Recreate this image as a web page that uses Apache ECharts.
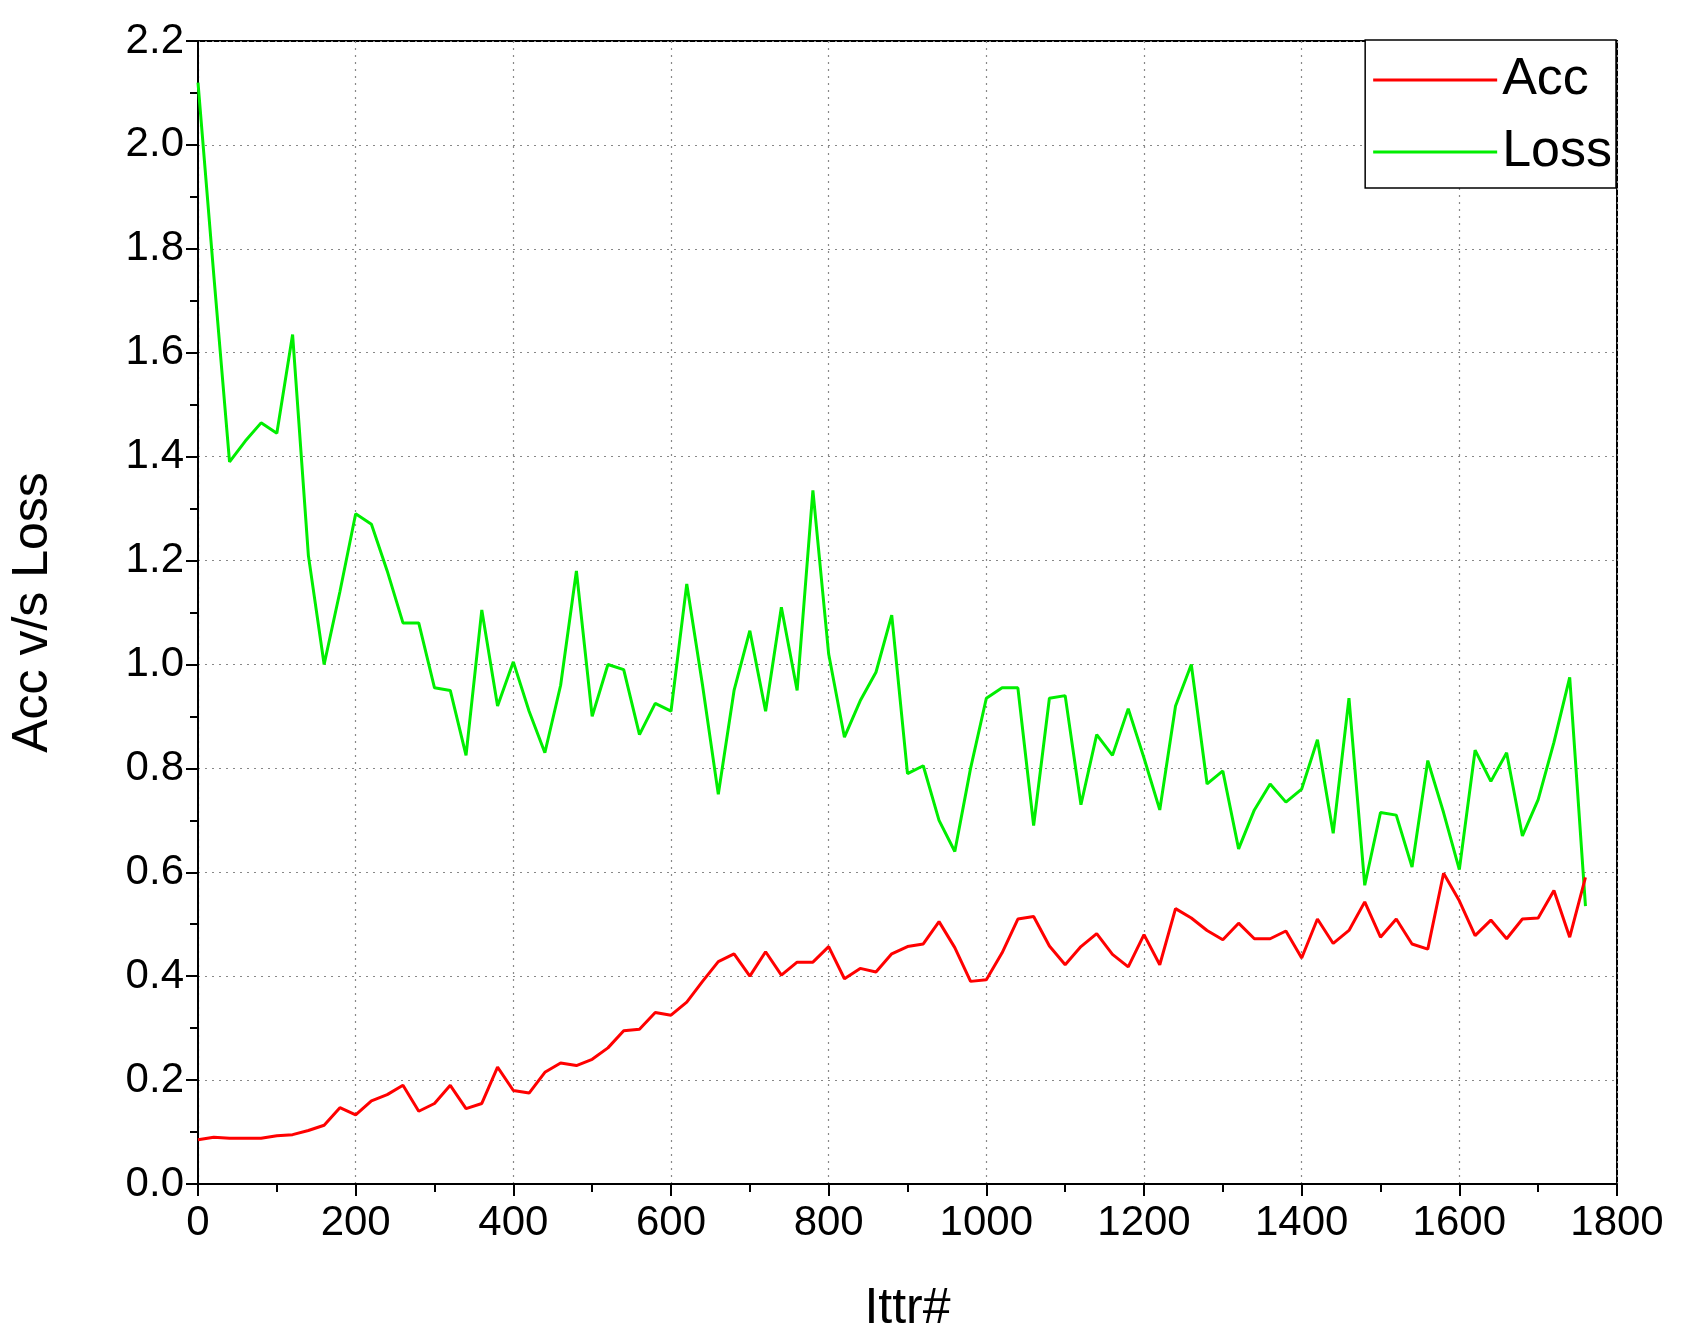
<!DOCTYPE html>
<html><head><meta charset="utf-8">
<script src="https://cdn.jsdelivr.net/npm/echarts@6/dist/echarts.min.js"></script>
<style>html,body{margin:0;padding:0;background:#fff}#c{width:1682px;height:1342px}</style>
</head><body><div id="c"></div>
<script>
const iters = [];
for (let i = 0; i <= 1760; i += 20) iters.push(i);
const accValues = [0.085,0.09,0.088,0.088,0.088,0.093,0.095,0.103,0.113,0.147,0.133,0.16,0.172,0.19,0.14,0.155,0.19,0.145,0.155,0.225,0.18,0.175,0.215,0.233,0.228,0.24,0.262,0.295,0.298,0.33,0.325,0.35,0.39,0.428,0.443,0.40,0.447,0.402,0.427,0.427,0.457,0.395,0.415,0.408,0.443,0.457,0.462,0.505,0.455,0.39,0.393,0.445,0.51,0.515,0.458,0.422,0.457,0.482,0.442,0.418,0.48,0.422,0.53,0.512,0.488,0.47,0.502,0.472,0.472,0.487,0.435,0.51,0.463,0.488,0.543,0.475,0.51,0.462,0.452,0.598,0.545,0.478,0.508,0.472,0.51,0.512,0.565,0.475,0.59];
const lossValues = [2.12,1.75,1.39,1.43,1.465,1.445,1.635,1.21,1.0,1.14,1.29,1.27,1.18,1.08,1.08,0.955,0.95,0.825,1.105,0.92,1.005,0.91,0.83,0.96,1.18,0.90,1.0,0.99,0.865,0.925,0.91,1.155,0.96,0.75,0.95,1.065,0.91,1.11,0.95,1.335,1.02,0.86,0.93,0.985,1.095,0.79,0.805,0.70,0.64,0.80,0.935,0.955,0.955,0.69,0.935,0.94,0.73,0.865,0.825,0.915,0.82,0.72,0.92,1.0,0.77,0.795,0.645,0.72,0.77,0.735,0.76,0.855,0.675,0.935,0.575,0.715,0.71,0.61,0.815,0.715,0.605,0.835,0.775,0.83,0.67,0.74,0.85,0.975,0.535];
const seriesNames = ['Acc','Loss'];
const xTitle = 'Ittr#', yTitle = 'Acc v/s Loss';
const F = '"Liberation Sans",Arial,sans-serif';
const chart = echarts.init(document.getElementById('c'));
const ls = {color:'#000',width:2};
chart.setOption({
  animation:false,
  grid:{left:198,right:65,top:41,bottom:158,show:true,borderColor:'#000',borderWidth:2},
  legend:{right:66,top:40,orient:'vertical',itemWidth:124,itemHeight:3,itemGap:20,padding:[14,4,10,8],
    borderColor:'#000',borderWidth:1.5,backgroundColor:'#fff',
    textStyle:{fontFamily:F,fontSize:52,color:'#000'},
    data:[{name:'Acc',icon:'rect'},{name:'Loss',icon:'rect'}]},
  xAxis:{type:'value',min:0,max:1800,interval:200,name:xTitle,nameLocation:'middle',nameGap:100,
    nameTextStyle:{fontFamily:F,fontSize:50,color:'#000'},
    axisLine:{lineStyle:ls},axisTick:{show:true,length:12,lineStyle:ls},
    minorTick:{show:true,splitNumber:2,length:8,lineStyle:ls},
    axisLabel:{fontFamily:F,fontSize:42,color:'#000',margin:18,formatter:v=>String(v)},
    splitLine:{show:true,lineStyle:{color:'#888',type:[2,5],width:1.2}}},
  yAxis:{type:'value',min:0,max:2.2,interval:0.2,name:yTitle,nameLocation:'middle',nameGap:140,
    nameTextStyle:{fontFamily:F,fontSize:50,color:'#000'},
    axisLine:{lineStyle:ls},axisTick:{show:true,length:12,lineStyle:ls},
    minorTick:{show:true,splitNumber:2,length:8,lineStyle:ls},
    axisLabel:{fontFamily:F,fontSize:42,color:'#000',margin:14,formatter:v=>v.toFixed(1)},
    splitLine:{show:true,lineStyle:{color:'#888',type:[2,5],width:1.2}}},
  series:[
    {name:seriesNames[0],type:'line',symbol:'none',color:'#ff0000',lineStyle:{width:3},data:iters.map((x,i)=>[x,accValues[i]]),z:3},
    {name:seriesNames[1],type:'line',symbol:'none',color:'#00ee00',lineStyle:{width:3},data:iters.map((x,i)=>[x,lossValues[i]]),z:2}
  ]
});
</script></body></html>
